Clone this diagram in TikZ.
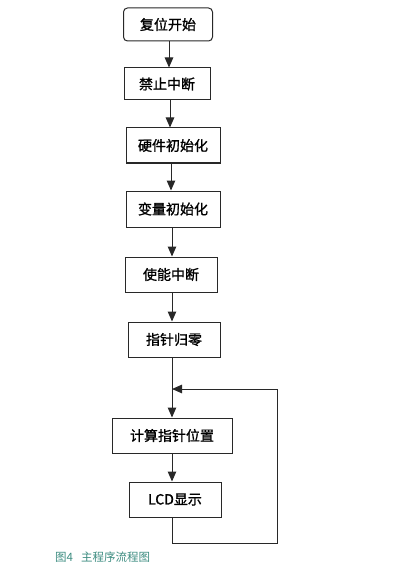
\documentclass[tikz,border=0pt]{standalone}
\usepackage{fontspec}
\setmainfont{Noto Sans CJK SC}
\newfontfamily\boxfont{Noto Sans CJK SC}[FakeBold=1.2]
\usetikzlibrary{arrows.meta}
\definecolor{capc}{RGB}{60,140,128}
\definecolor{boxc}{RGB}{40,40,40}
\begin{document}
\begin{tikzpicture}[x=1pt,y=-1pt,
  stepbox/.style={draw=boxc,line width=1pt,minimum height=33pt,inner sep=0pt,font=\boxfont\fontsize{14pt}{16pt}\selectfont},
  conn/.style={draw=boxc,line width=1pt},
  arr/.style={conn,-{Triangle[width=8.5pt,length=10pt]}}]
\useasboundingbox (0,0) rectangle (400,588);
\node[stepbox,rounded corners=4pt,minimum width=89pt] (n1) at (168,24.5) {复位开始};
\node[stepbox,minimum width=86pt,minimum height=32pt] (n2) at (167,84) {禁止中断};
\node[stepbox,minimum width=94pt,minimum height=35pt] (n3) at (173,145.5) {硬件初始化};
\node[stepbox,minimum width=94pt,minimum height=36pt] (n4) at (173,209) {变量初始化};
\node[stepbox,minimum width=92pt,minimum height=35pt] (n5) at (171,274.5) {使能中断};
\node[stepbox,minimum width=92pt,minimum height=35pt] (n6) at (174,339.5) {指针归零};
\node[stepbox,minimum width=120pt,minimum height=35pt] (n7) at (172,435.5) {计算指针位置};
\node[stepbox,minimum width=92pt,minimum height=35pt] (n8) at (175,499.5) {LCD显示};
\node[font=\fontsize{11.5pt}{13pt}\selectfont,text=capc,anchor=west,inner sep=0pt] (cap) at (55,557) {图4\hspace{8pt}主程序流程图};
\coordinate (m) at (172,389);
\coordinate (b1) at (172,543);
\coordinate (b2) at (277,543);
\coordinate (b3) at (277,389);
\draw[arr] (n1.south -| 169,0) -- (n2.north -| 169,0);
\draw[arr] (n2.south -| 170,0) -- (n3.north -| 170,0);
\draw[arr] (n3.south -| 171,0) -- (n4.north -| 171,0);
\draw[arr] (n4.south -| 172,0) -- (n5.north -| 172,0);
\draw[arr] (n5.south -| 172,0) -- (n6.north -| 172,0);
\draw[arr] (n6.south -| 172,0) -- (n7.north -| 172,0);
\draw[arr] (n7.south -| 172,0) -- (n8.north -| 172,0);
\draw[conn] (n8.south -| 172,0) -- (b1) -- (b2) -- (b3) -- (b3 -| 180,0);
\draw[arr] (b3) -- (m);
\end{tikzpicture}
\end{document}
